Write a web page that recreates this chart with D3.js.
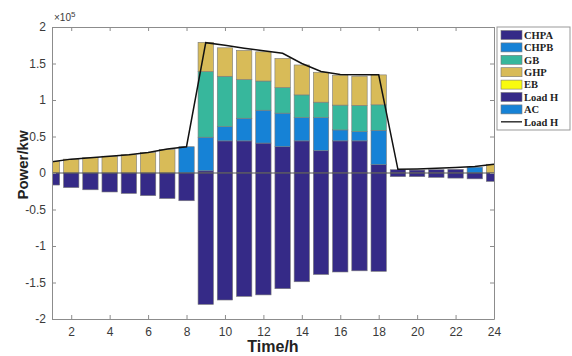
<!DOCTYPE html>
<html><head><meta charset="utf-8">
<script src="https://cdn.jsdelivr.net/npm/d3@7/dist/d3.min.js"></script>
<style>body{margin:0;background:#fff}svg{display:block}</style>
</head><body><svg id="c" width="572" height="356"></svg>
<script>
const hours = d3.range(1, 25);
// values in units of 1e5 kW
const CHPA  = [0,0,0,0,0,0,0,0, 0.03,0.44,0.44,0.41,0.36,0.44,0.305,0.44,0.44,0.114, 0.045,0.04,0.045,0.05,0,0];
const CHPB  = [0,0,0,0,0,0,0,0.36, 0.46,0.195,0.31,0.45,0.46,0.32,0.455,0.15,0.126,0.47, 0,0,0,0,0.08,0];
const GB    = [0,0,0,0,0,0,0,0, 0.9,0.69,0.53,0.40,0.35,0.31,0.21,0.34,0.36,0.35, 0,0,0,0,0,0];
const GHP   = [0.16,0.19,0.21,0.23,0.25,0.28,0.32,0, 0.40,0.39,0.40,0.40,0.40,0.41,0.41,0.41,0.40,0.41, 0,0,0,0,0,0.12];
const EB    = new Array(24).fill(0);
const LoadHneg = [-0.165,-0.20,-0.23,-0.26,-0.28,-0.31,-0.35,-0.38, -1.80,-1.74,-1.69,-1.67,-1.585,-1.49,-1.39,-1.356,-1.34,-1.347, -0.05,-0.05,-0.06,-0.07,-0.08,-0.115];
const AC    = new Array(24).fill(0);
const LoadLine = [0.155,0.19,0.21,0.23,0.25,0.28,0.33,0.36, 1.785,1.75,1.71,1.675,1.64,1.50,1.39,1.35,1.345,1.345, 0.05,0.055,0.065,0.075,0.09,0.12];
const yTicks = [-2,-1.5,-1,-0.5,0,0.5,1,1.5,2];
const xTicks = [2,4,6,8,10,12,14,16,18,20,22,24];
const SCALE = 1e5;

const seriesNames = ["CHPA","CHPB","GB","GHP","EB","Load H","AC"];
const colors = {"CHPA":"#352a87","CHPB":"#1682d6","GB":"#37b79c","GHP":"#d8bb58","EB":"#f9fb0e","Load H":"#352a87","AC":"#1682d6"};
const posSeries = {"CHPA":CHPA,"CHPB":CHPB,"GB":GB,"GHP":GHP,"EB":EB};

const svg = d3.select("#c");
const L = 52, R = 494, T = 27, B = 319;
const x = d3.scaleLinear().domain([1,24]).range([L,R]);
const y = d3.scaleLinear().domain([-2*SCALE, 2*SCALE]).range([B,T]);
const bw = (x(2)-x(1))*0.8;

svg.append("clipPath").attr("id","clip").append("rect").attr("x",L).attr("y",T).attr("width",R-L).attr("height",B-T);
const g = svg.append("g").attr("clip-path","url(#clip)");

const rects = [];
hours.forEach((h,i)=>{
  let base = 0;
  ["CHPA","CHPB","GB","GHP","EB"].forEach(n=>{
    const v = posSeries[n][i]*SCALE;
    if (v>0){ rects.push({h, y0:base, y1:base+v, c:colors[n]}); base += v; }
  });
  const nv = LoadHneg[i]*SCALE;
  if (nv<0) rects.push({h, y0:nv, y1:0, c:colors["Load H"]});
  const av = AC[i]*SCALE;
  if (av>0) { rects.push({h, y0:base, y1:base+av, c:colors["AC"]}); base+=av; }
});
g.selectAll("rect.bar").data(rects).join("rect").attr("class","bar")
  .attr("x",d=>x(d.h)-bw/2).attr("width",bw)
  .attr("y",d=>y(d.y1)).attr("height",d=>y(d.y0)-y(d.y1))
  .attr("fill",d=>d.c).attr("stroke","#7a7a7a").attr("stroke-width",0.6);

g.append("line").attr("x1",L).attr("x2",R).attr("y1",y(0)).attr("y2",y(0)).attr("stroke","#555").attr("stroke-width",1);

g.append("path").datum(hours.map((h,i)=>[h,LoadLine[i]*SCALE]))
  .attr("d",d3.line().x(d=>x(d[0])).y(d=>y(d[1])))
  .attr("fill","none").attr("stroke","#111").attr("stroke-width",1.5);

const axColor = "#8c8c8c";
function styleAxis(sel){
  sel.selectAll(".domain").attr("stroke",axColor);
  sel.selectAll(".tick line").attr("stroke",axColor);
  sel.selectAll(".tick text").attr("fill","#3a3a3a").attr("font-family","Liberation Sans, Arial, sans-serif").attr("font-size",12);
}
const ax = svg.append("g").attr("transform",`translate(0,${B})`)
  .call(d3.axisBottom(x).tickValues(xTicks).tickSizeInner(-4).tickSizeOuter(0).tickPadding(8).tickFormat(d3.format("d")));
styleAxis(ax);
const axT = svg.append("g").attr("transform",`translate(0,${T})`)
  .call(d3.axisTop(x).tickValues(xTicks).tickSizeInner(-4).tickSizeOuter(0).tickFormat(""));
styleAxis(axT);
const ay = svg.append("g").attr("transform",`translate(${L},0)`)
  .call(d3.axisLeft(y).tickValues(yTicks.map(v=>v*SCALE)).tickSizeInner(-4).tickSizeOuter(0).tickPadding(6).tickFormat(d=>String(d/SCALE)));
styleAxis(ay);
const ayR = svg.append("g").attr("transform",`translate(${R},0)`)
  .call(d3.axisRight(y).tickValues(yTicks.map(v=>v*SCALE)).tickSizeInner(-4).tickSizeOuter(0).tickFormat(""));
styleAxis(ayR);

const ex = svg.append("text").attr("x",L+2).attr("y",T-6).attr("font-family","Liberation Sans, Arial, sans-serif").attr("font-size",10).attr("fill","#3a3a3a");
ex.append("tspan").text("×10");
ex.append("tspan").attr("font-size",8).attr("dy",-4).text("5");

svg.append("text").attr("x",(L+R)/2).attr("y",352).attr("text-anchor","middle")
  .attr("font-family","Liberation Sans, Arial, sans-serif").attr("font-weight","bold").attr("font-size",16).attr("fill","#222").text("Time/h");
svg.append("text").attr("transform",`translate(28,${(T+B)/2-8}) rotate(-90)`).attr("text-anchor","middle")
  .attr("font-family","Liberation Sans, Arial, sans-serif").attr("font-weight","bold").attr("font-size",15).attr("fill","#222").text("Power/kw");

const lg = svg.append("g");
lg.append("rect").attr("x",497).attr("y",27).attr("width",73).attr("height",103).attr("fill","#fff").attr("stroke","#999").attr("stroke-width",1);
const items = seriesNames.concat(["Load H"]);
items.forEach((n,i)=>{
  const cy = 35 + i*12.4;
  if (i < 7) {
    lg.append("rect").attr("x",501).attr("y",cy-4.5).attr("width",21).attr("height",9).attr("fill",colors[n]).attr("stroke","#777").attr("stroke-width",0.6);
  } else {
    lg.append("line").attr("x1",501).attr("x2",522).attr("y1",cy).attr("y2",cy).attr("stroke","#333").attr("stroke-width",1.5);
  }
  lg.append("text").attr("x",524).attr("y",cy+3.8).attr("font-family","Liberation Serif, Times New Roman, serif").attr("font-weight","bold").attr("font-size",10.5).attr("fill","#222").text(n);
});
</script></body></html>
